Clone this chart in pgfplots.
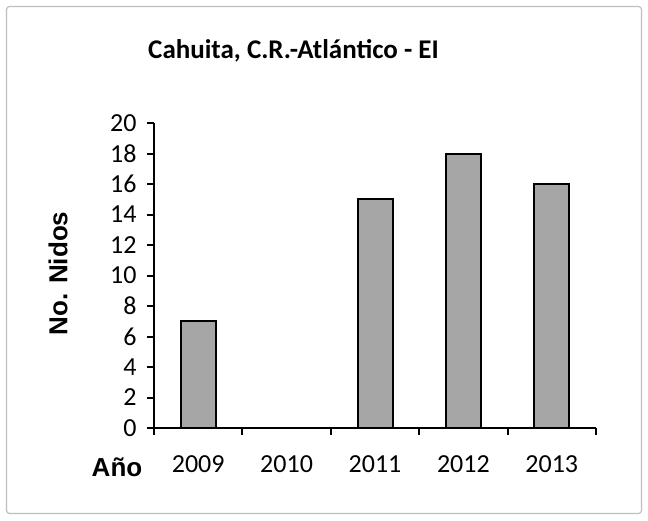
\documentclass[border=0pt]{standalone}
\usepackage{pgfplots}
\pgfplotsset{compat=1.18}
\usepackage{fontspec}
\setmainfont{Carlito}
\newfontfamily\arialfont{Liberation Sans}
\definecolor{bargray}{HTML}{A6A6A6}
\definecolor{framegray}{HTML}{BFBFBF}
\begin{document}
\begin{tikzpicture}[x=1pt,y=1pt]
\path[fill=white] (0,0) rectangle (648,520);
\draw[framegray, line width=1.2pt, rounded corners=3pt] (6.5,6.5) rectangle (641.5,513.5);
\node[font=\fontsize{27}{31}\selectfont\bfseries] at (293.5,469) {Cahuita, C.R.-Atlántico - EI};
\node[font=\arialfont\fontsize{26}{30}\selectfont\bfseries, rotate=90, anchor=center] at (58,246.5) {No. Nidos};
\node[font=\arialfont\fontsize{26}{30}\selectfont\bfseries, anchor=base] at (117,44) {Año};
\begin{axis}[
  at={(154pt,92pt)}, anchor=south west,
  scale only axis, width=442pt, height=305pt,
  /pgf/number format/assume math mode=true,
  font=\fontsize{26}{30}\selectfont,
  ybar, bar width=35pt,
  xmin=-0.5, xmax=4.5, ymin=0, ymax=20,
  axis lines*=left,
  axis line style={line width=2pt, black},
  xtick={0,1,2,3,4},
  xticklabels={2009,2010,2011,2012,2013},
  minor xtick={-0.5,0.5,1.5,2.5,3.5,4.5},
  ytick={0,2,...,20},
  minor ytick={0,2,...,20},
  tick align=outside,
  major tick length=0pt,
  minor tick length=7pt,
  every tick/.style={line width=2pt, black},
  xticklabel style={yshift=-24pt},
  yticklabel style={xshift=-14pt},
  clip=false,
]
\addplot[fill=bargray, draw=black, line width=2pt] coordinates {(0,7) (1,0) (2,15) (3,18) (4,16)};
\end{axis}
\end{tikzpicture}
\end{document}
